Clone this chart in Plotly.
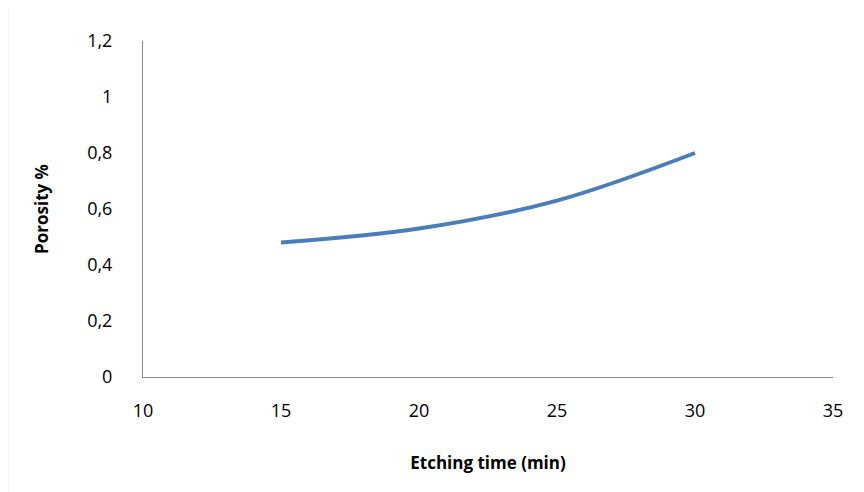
import plotly.graph_objects as go

etching_time = [15, 20, 25, 30]
porosity = [0.48, 0.53, 0.63, 0.80]

x_ticks = [10, 15, 20, 25, 30, 35]
y_ticks = [0, 0.2, 0.4, 0.6, 0.8, 1.0, 1.2]

fig = go.Figure()
fig.add_trace(go.Scatter(x=etching_time, y=porosity, mode="lines",
                         line=dict(color="#4a7ebb", width=4, shape="spline"),
                         showlegend=False))

axis_font = dict(family="Open Sans, Arial", size=18, color="#000")
title_font = dict(family="Open Sans, Arial", size=17, color="#000")
fig.update_layout(
    width=856, height=484,
    margin=dict(l=135, r=31, t=33, b=115),
    paper_bgcolor="white", plot_bgcolor="white",
    separators=",.",
    xaxis=dict(range=[10, 35], tickvals=x_ticks, showgrid=False, zeroline=False,
               showline=True, linecolor="#868686", linewidth=1,
               ticks="", ticklabelstandoff=17,
               tickfont=axis_font,
               title=dict(text="<b>Etching time (min)</b>", font=title_font, standoff=36)),
    yaxis=dict(range=[0, 1.2], tickvals=y_ticks, showgrid=False, zeroline=False,
               showline=True, linecolor="#868686", linewidth=1,
               ticks="", ticklabelstandoff=26,
               tickfont=axis_font,
               title=dict(text="<b>Porosity %</b>", font=title_font, standoff=34)),
    shapes=[dict(type="rect", xref="paper", yref="paper", x0=-0.196, x1=1.1,
                 y0=-0.36, y1=1.2, line=dict(color="#d0d0d0", width=1))],
)

fig.write_html("out.html")
